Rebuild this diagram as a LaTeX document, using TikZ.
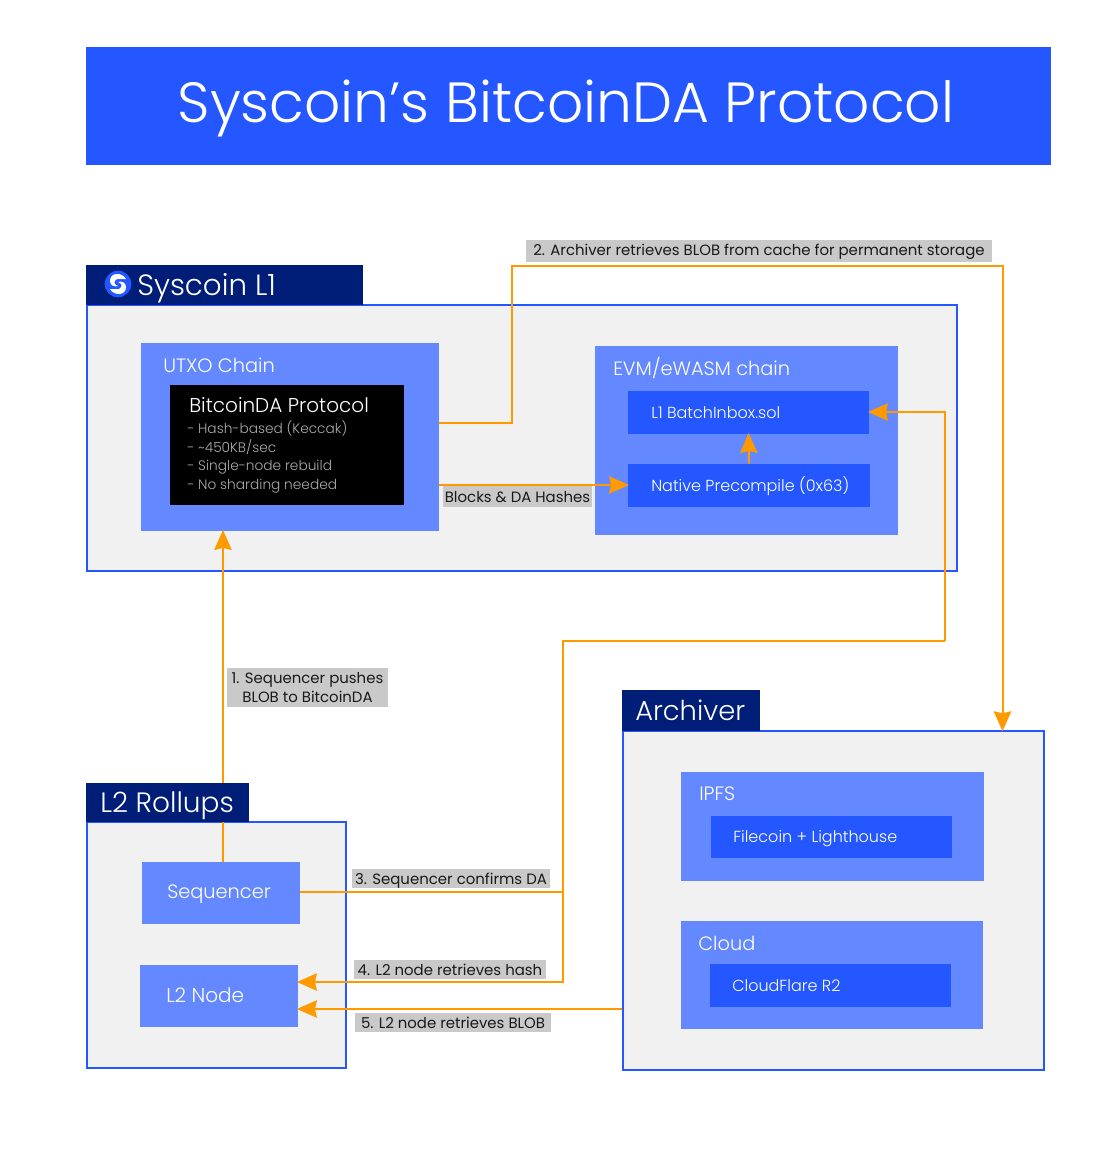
\documentclass[tikz,border=0pt]{standalone}
\usepackage{fontspec}
\setmainfont{Poppins Light}
\newfontfamily\tagfont{Poppins}
\usepackage{tikz}
\usetikzlibrary{positioning, arrows.meta, fit}
\definecolor{brandblue}{HTML}{2457FF}
\definecolor{brandnavy}{HTML}{001E78}
\definecolor{midblue}{HTML}{6488FF}
\definecolor{panelgrey}{HTML}{F1F1F1}
\definecolor{tagbg}{HTML}{C9C9C9}
\definecolor{flowcol}{HTML}{FF9900}
\tikzset{
  panel/.style={draw=brandblue, line width=1.1pt, fill=panelgrey, inner sep=0pt},
  tab/.style={fill=brandnavy, inner sep=0pt},
  midbox/.style={fill=midblue, inner sep=0pt},
  innerbox/.style={fill=brandblue, inner sep=0pt},
  darkbox/.style={fill=black, inner sep=0pt},
  tabtext/.style={text=white, anchor=west, inner sep=0pt, font=\fontsize{21}{24}\selectfont},
  boxtext/.style={text=white, anchor=west, inner sep=0pt, font=\fontsize{14.5}{16}\selectfont},
  smalltext/.style={text=white, anchor=west, inner sep=0pt, font=\fontsize{12}{14}\selectfont},
  tag/.style={fill=tagbg, text=black!90, inner sep=0pt, font=\tagfont\fontsize{11.2}{14.5}\selectfont, align=center},
  flow/.style={draw=flowcol, line width=1.5pt},
  flowtip/.style={flow, shorten >=-1pt, -{Stealth[length=15pt, width=13pt, inset=1.5pt]}},
}
\begin{document}
\begin{tikzpicture}[x=0.75pt, y=-0.75pt]
  \useasboundingbox (0,0) rectangle (1120,1150);
  % title
  \node[innerbox, fit={(86,47) (1051,165)}] (titlebar) {};
  \node[text=white, inner sep=0pt, font=\fontsize{42.5}{46}\selectfont] (titletext) at (566,108) {Syscoin’s BitcoinDA Protocol};

  % panels
  \node[panel, fit={(87,305) (957,571)}] (l1panel) {};
  \node[panel, fit={(87,822) (346,1068)}] (l2panel) {};
  \node[panel, line width=1.5pt, fit={(623,731) (1044,1070)}] (archpanel) {};

  % syscoin l1
  \node[midbox, fit={(141,343) (439,531)}] (utxo) {};
  \node[boxtext] (utxotext) at (163,365) {UTXO Chain};
  \node[darkbox, fit={(170,385) (404,505)}] (bda) {};
  \node[boxtext, font=\fontsize{15}{17}\selectfont] (bdatext) at (189,405) {BitcoinDA Protocol};
  \node[smalltext, text=white!68!black, font=\fontsize{10.3}{13.8}\selectfont, align=left] (bdalist) at (187,457)
    {- Hash-based (Keccak)\\- \textasciitilde450KB/sec\\- Single-node rebuild\\- No sharding needed};
  \node[midbox, fit={(595,346) (898,535)}] (evm) {};
  \node[boxtext] (evmtext) at (613,368) {EVM/eWASM chain};
  \node[innerbox, fit={(628,391) (869,434)}] (inbox) {};
  \node[smalltext] (inboxtext) at (651,413) {L1 BatchInbox.sol};
  \node[innerbox, fit={(628,464) (870,507)}] (precomp) {};
  \node[smalltext] (precomptext) at (651,486) {Native Precompile (0x63)};

  % l2 rollups
  \node[midbox, fit={(142,862) (300,924)}] (seq) {};
  \node[boxtext] (seqtext) at (167,894) {Sequencer};
  \node[midbox, fit={(140,965) (298,1027)}] (l2node) {};
  \node[boxtext, font=\fontsize{15}{17}\selectfont] (l2text) at (166,995) {L2 Node};

  % archiver
  \node[midbox, fit={(681,772) (984,881)}] (ipfs) {};
  \node[boxtext] (ipfstext) at (699,794) {IPFS};
  \node[innerbox, fit={(711,816) (952,858)}] (filecoin) {};
  \node[smalltext] (filecointext) at (733,839) {Filecoin + Lighthouse};
  \node[midbox, fit={(681,921) (983,1029)}] (cloud) {};
  \node[boxtext] (cloudtext) at (698,943) {Cloud};
  \node[innerbox, fit={(710,964) (951,1007)}] (rtwo) {};
  \node[smalltext] (rtwotext) at (732,986) {CloudFlare R2};

  % routing points
  \coordinate (pone) at (223,600);
  \coordinate (ptwoa) at (512,422.5);
  \coordinate (ptwob) at (1002.5,265.5);
  \coordinate (pblocks) at (500,485);
  \coordinate (pbus) at (563,641);
  \coordinate (pbusr) at (945,412);
  \coordinate (pseq) at (400,892);
  \coordinate (pnode) at (400,982);
  \coordinate (pblob) at (400,1009);

  % connectors
  \draw[flowtip] (seq.north -| pone) -- (utxo.south -| pone);
  \draw[flowtip] (utxo.east |- ptwoa) -- (ptwoa) -- (ptwoa |- ptwob) -- (ptwob) -- (archpanel.north -| ptwob);
  \draw[flowtip] (utxo.east |- pblocks) -- (precomp.west |- pblocks);
  \draw[flowtip] (precomp.north) -- (inbox.south);
  \draw[flowtip] (pbusr |- pbus) -- (pbusr) -- (inbox.east |- pbusr);
  \draw[flowtip] (pbusr |- pbus) -- (pbus) -- (pbus |- pnode) -- (l2node.east |- pnode);
  \draw[flow] (seq.east |- pseq) -- (pbus |- pseq);
  \draw[flowtip] (archpanel.west |- pblob) -- (l2node.east |- pblob);

  % tabs
  \node[tab, fit={(86,265) (363,305)}] (l1tab) {};
  \node[tabtext, font=\fontsize{22}{24}\selectfont] (l1tabtext) at (137,288) {Syscoin L1};
  \node[circle, fill=brandblue, inner sep=0pt, minimum size=20pt] (logo) at (118,284) {};
  \fill[white] (126,279) .. controls (122,272) and (110,272) .. (110,281)
    .. controls (110,286) and (115,287) .. (118,286)
    .. controls (114,285) and (113,281) .. (117,279)
    .. controls (120,278) and (123,280) .. (126,279) -- cycle;
  \fill[white] (110,289) .. controls (114,296) and (126,296) .. (126,287)
    .. controls (126,282) and (121,281) .. (118,282)
    .. controls (122,283) and (123,287) .. (119,289)
    .. controls (116,290) and (113,288) .. (110,289) -- cycle;
  \node[tab, fit={(86,783) (249,822)}] (l2tab) {};
  \node[tabtext] (l2tabtext) at (100,806) {L2 Rollups};
  \node[tab, fit={(622,690) (760,731)}] (archtab) {};
  \node[tabtext, font=\fontsize{20.5}{24}\selectfont] (archtabtext) at (635,710) {Archiver};

  % step labels
  \node[tag, fit={(526,240) (992,262)}] (steptwobg) {};
  \node[tag, fill=none] (steptwo) at (759,252) {2. Archiver retrieves BLOB from cache for permanent storage};
  \node[tag, fit={(443,486) (592,507)}] (blocksbg) {};
  \node[tag, fill=none] (blocks) at (517.5,497) {Blocks \& DA Hashes};
  \node[tag, fit={(227,668) (388,707)}] (steponebg) {};
  \node[tag, fill=none] (stepone) at (307.5,687.5) {1. Sequencer pushes\\BLOB to BitcoinDA};
  \node[tag, fit={(352,869) (550,888)}] (stepthreebg) {};
  \node[tag, fill=none] (stepthree) at (451,881) {3. Sequencer confirms DA};
  \node[tag, fit={(354,960) (546,979)}] (stepfourbg) {};
  \node[tag, fill=none] (stepfour) at (450,970) {4. L2 node retrieves hash};
  \node[tag, fit={(355,1013) (551,1032)}] (stepfivebg) {};
  \node[tag, fill=none] (stepfive) at (453,1023) {5. L2 node retrieves BLOB};
\end{tikzpicture}
\end{document}
